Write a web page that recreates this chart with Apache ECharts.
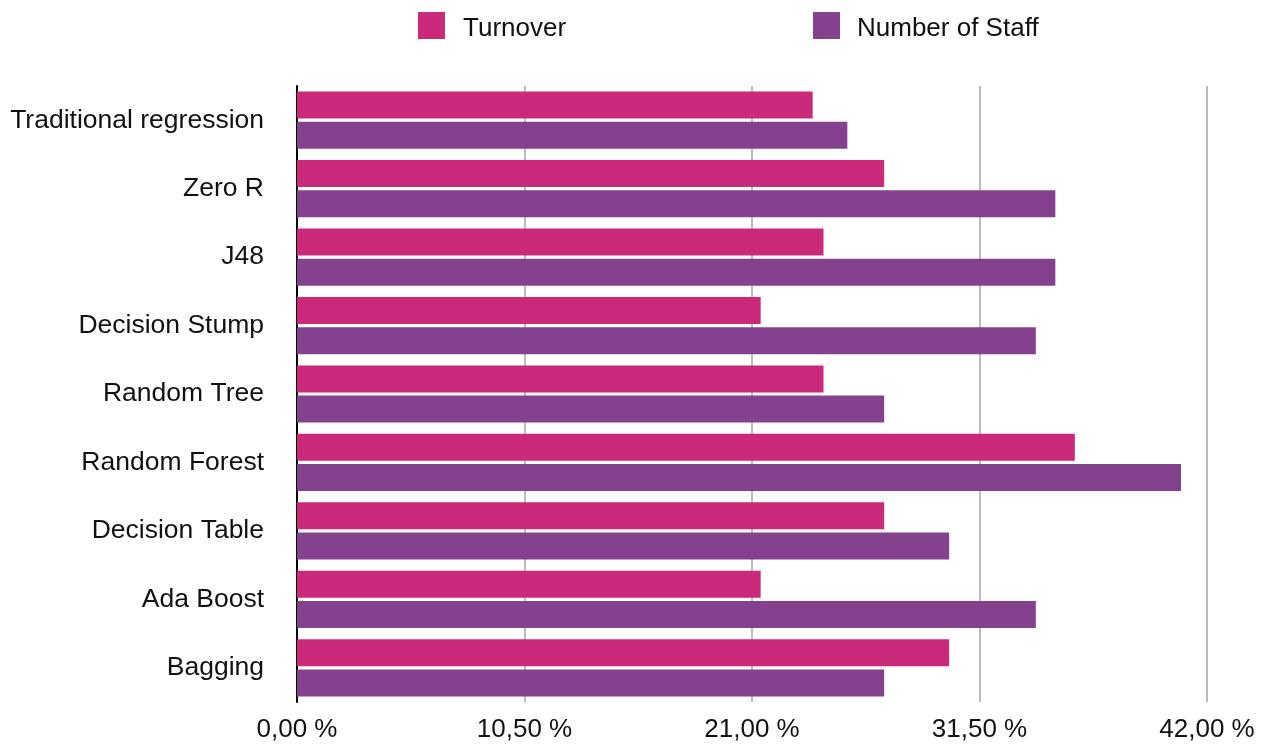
<!DOCTYPE html>
<html>
<head>
<meta charset="utf-8">
<script src="https://cdn.jsdelivr.net/npm/echarts@6/dist/echarts.min.js"></script>
<style>
html,body{margin:0;padding:0;background:#fff;}
#chart{width:1271px;height:744px;}
</style>
</head>
<body>
<div id="chart"></div>
<script>
const categories = ['Traditional regression','Zero R','J48','Decision Stump','Random Tree','Random Forest','Decision Table','Ada Boost','Bagging'];
const turnover = [23.8, 27.1, 24.3, 21.4, 24.3, 35.9, 27.1, 21.4, 30.1];
const staff = [25.4, 35.0, 35.0, 34.1, 27.1, 40.8, 30.1, 34.1, 27.1];
const xTicks = [0, 10.5, 21, 31.5, 42];

const FONT = '"Liberation Sans", Arial, Helvetica, sans-serif';
const legendText = (padLeft) => ({
  fontSize: 26, color: '#111', fontFamily: FONT,
  rich: { t: { fontSize: 26, color: '#111', fontFamily: FONT, padding: [6, 0, 0, padLeft] } }
});
const chart = echarts.init(document.getElementById('chart'));
chart.setOption({
  animation: false,
  backgroundColor: '#ffffff',
  textStyle: { fontFamily: FONT },
  legend: [
    { data: ['Turnover'], left: 418, top: 12, padding: 0, itemWidth: 27, itemHeight: 27, icon: 'rect',
      formatter: '{t|{name}}', textStyle: legendText(13) },
    { data: ['Number of Staff'], left: 813, top: 12, padding: 0, itemWidth: 27, itemHeight: 27, icon: 'rect',
      formatter: '{t|{name}}', textStyle: legendText(12) }
  ],
  grid: { left: 297, right: 64, top: 86, bottom: 42, containLabel: false },
  xAxis: {
    type: 'value', min: xTicks[0], max: xTicks[xTicks.length-1], interval: xTicks[1]-xTicks[0],
    axisLine: { show: false }, axisTick: { show: false },
    splitLine: { show: true, lineStyle: { color: '#bbbbbb', width: 2 } },
    axisLabel: { fontSize: 26, color: '#111', margin: 15, fontFamily: FONT,
      formatter: v => v.toFixed(2).replace('.', ',') + ' %' }
  },
  yAxis: {
    type: 'category', data: categories, inverse: true,
    axisLine: { show: true, lineStyle: { color: '#000', width: 2 } },
    axisTick: { show: false },
    axisLabel: { fontSize: 26.5, color: '#111', margin: 33, fontFamily: FONT, padding: [5,0,0,0] }
  },
  series: [
    { name: 'Turnover', type: 'bar', data: turnover, barWidth: 27, barGap: '12%',
      itemStyle: { color: '#CB2A7B' } },
    { name: 'Number of Staff', type: 'bar', data: staff, barWidth: 27, barGap: '12%',
      itemStyle: { color: '#84428E' } }
  ]
});
</script>
</body>
</html>
